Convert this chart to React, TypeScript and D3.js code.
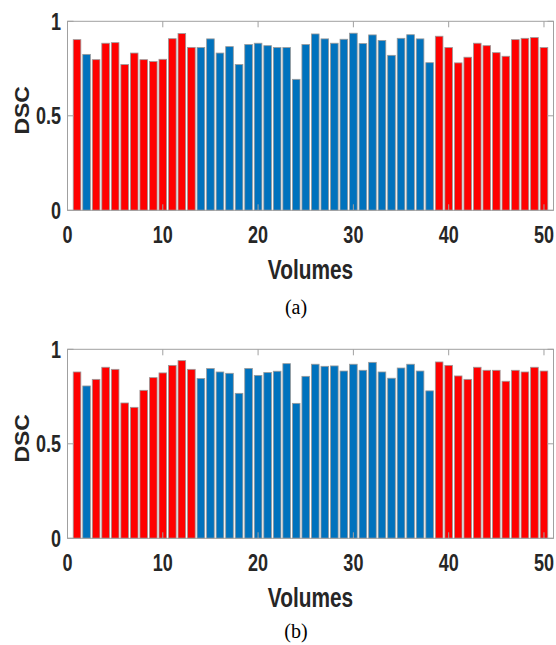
import React from 'react';
import * as d3 from 'd3';

const volumes = [1,2,3,4,5,6,7,8,9,10,11,12,13,14,15,16,17,18,19,20,21,22,23,24,25,26,27,28,29,30,31,32,33,34,35,36,37,38,39,40,41,42,43,44,45,46,47,48,49,50];

// group of each volume: "R" = red, "B" = blue
const groups = ["R","B","R","R","R","R","R","R","R","R","R","R","R","B","B","B","B","B","B","B","B","B","B","B","B","B","B","B","B","B","B","B","B","B","B","B","B","B","R","R","R","R","R","R","R","R","R","R","R","R"];

const dscA = [0.903,0.825,0.797,0.884,0.887,0.771,0.832,0.797,0.787,0.799,0.908,0.935,0.862,0.861,0.907,0.832,0.866,0.771,0.877,0.884,0.871,0.861,0.861,0.693,0.877,0.933,0.907,0.884,0.905,0.937,0.882,0.928,0.899,0.820,0.910,0.929,0.907,0.781,0.921,0.861,0.780,0.810,0.884,0.871,0.834,0.815,0.903,0.910,0.914,0.861];

const dscB = [0.880,0.806,0.841,0.905,0.894,0.716,0.693,0.783,0.850,0.875,0.915,0.940,0.894,0.845,0.898,0.880,0.873,0.767,0.899,0.862,0.877,0.884,0.924,0.714,0.857,0.921,0.910,0.912,0.885,0.921,0.889,0.931,0.880,0.847,0.901,0.921,0.885,0.780,0.933,0.915,0.859,0.841,0.905,0.889,0.889,0.831,0.889,0.880,0.905,0.885];

const xTicks = [0,10,20,30,40,50];
const yTicks = [0,0.5,1];
const yTickLabels = ["0","0.5","1"];
const captions = ["(a)","(b)"];

const COLORS: Record<string,string> = { R: '#ff0000', B: '#0072bd' };
const AXIS = '#a0a0a0';
const TXT = '#262626';
const BOLD = '"Liberation Sans", Arial, sans-serif';

function Panel({ data, top, caption, captionY }: { data: number[]; top: number; caption: string; captionY: number }) {
  const y0 = top + 189;
  const x = d3.scaleLinear().domain([0, 51]).range([67.5, 553.5]);
  const y = d3.scaleLinear().domain([0, 1]).range([y0, top]);
  const bw = x(0.8) - x(0);
  const tick = 6;
  const cx = (x(0) + x(51)) / 2;
  return (
    <g>
      {volumes.map((v, i) => (
        <rect key={v} x={x(v - 0.4)} y={y(data[i])} width={bw} height={y(0) - y(data[i])}
          fill={COLORS[groups[i]]} stroke="#9a9a9a" strokeWidth={0.8} />
      ))}
      <rect x={x(0)} y={y(1)} width={x(51) - x(0)} height={y(0) - y(1)} fill="none" stroke={AXIS} strokeWidth={1} />
      {xTicks.map(t => (
        <g key={t}>
          <line x1={x(t)} x2={x(t)} y1={y(0)} y2={y(0) - tick} stroke={AXIS} />
          <line x1={x(t)} x2={x(t)} y1={y(1)} y2={y(1) + tick} stroke={AXIS} />
          <text transform={`translate(${x(t)},${y0 + 33}) scale(0.75,1)`} textAnchor="middle"
            fontFamily={BOLD} fontWeight="bold" fontSize={24} fill={TXT}>{t}</text>
        </g>
      ))}
      {yTicks.map((t, i) => (
        <g key={t}>
          <line x1={x(0)} x2={x(0) + tick} y1={y(t)} y2={y(t)} stroke={AXIS} />
          <line x1={x(51)} x2={x(51) - tick} y1={y(t)} y2={y(t)} stroke={AXIS} />
          <text transform={`translate(61,${y(t) + 8.5}) scale(0.75,1)`} textAnchor="end"
            fontFamily={BOLD} fontWeight="bold" fontSize={24} fill={TXT}>{yTickLabels[i]}</text>
        </g>
      ))}
      <text transform={`translate(28.5,${top + 89}) rotate(-90) scale(1,0.9)`} textAnchor="middle"
        fontFamily={BOLD} fontWeight="bold" fontSize={23} fill={TXT}>DSC</text>
      <text transform={`translate(${cx},${y0 + 69}) scale(0.745,1)`} textAnchor="middle"
        fontFamily={BOLD} fontWeight="bold" fontSize={28} fill={TXT}>Volumes</text>
      <text x={296} y={captionY} textAnchor="middle"
        fontFamily='"Liberation Serif", "Times New Roman", serif' fontSize={20} fill="#000">{caption}</text>
    </g>
  );
}

export default function App() {
  return (
    <svg width={556} height={645} style={{ position: 'absolute', left: 0, top: 0, background: '#fff' }}>
      <Panel data={dscA} top={21.3} caption={captions[0]} captionY={314} />
      <Panel data={dscB} top={349.3} caption={captions[1]} captionY={638} />
    </svg>
  );
}
